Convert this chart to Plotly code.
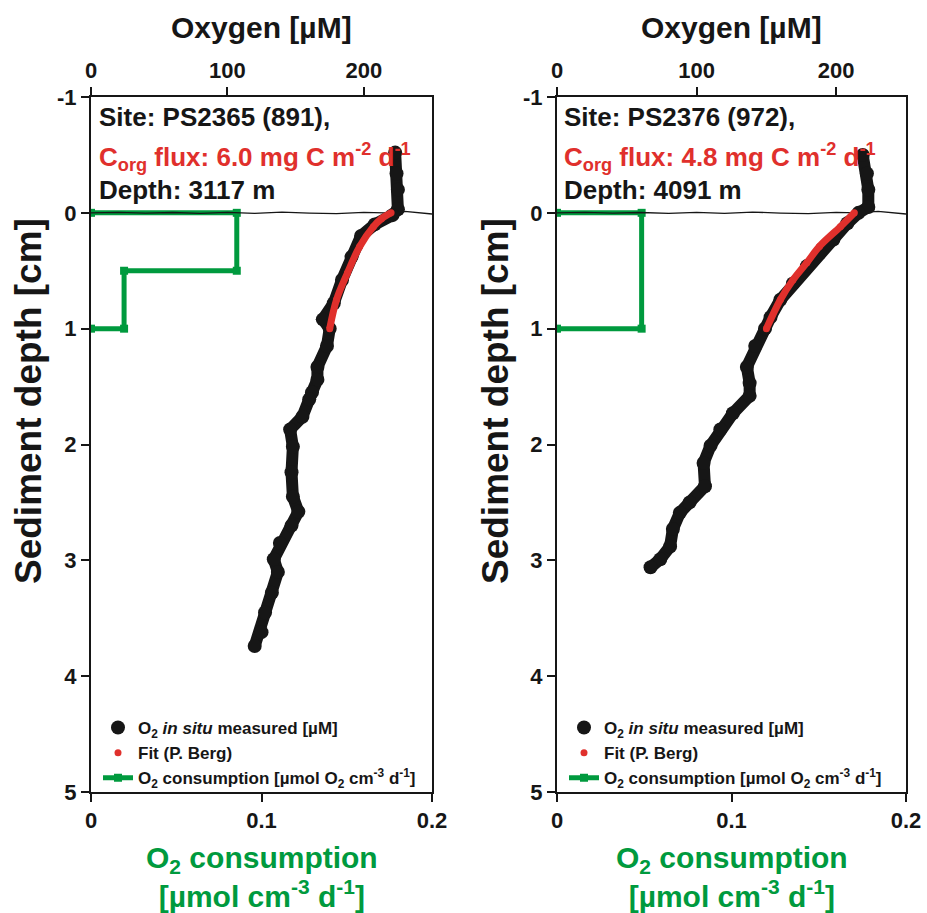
import plotly.graph_objects as go

# ---------------- data ----------------
# Site PS2365 (left)
left_o2 = [223, 224, 225, 225, 221, 208, 198, 191, 184, 178, 170, 175, 173, 166, 166, 162, 160,
           155, 146, 148, 147, 148, 152, 147, 138.5, 134, 137, 132.6, 127.6, 125, 120]
left_depth = [-0.52, -0.34, -0.2, -0.03, 0.02, 0.1, 0.2, 0.38, 0.58, 0.78, 0.92, 1.0, 1.15, 1.33,
              1.44, 1.55, 1.61, 1.76, 1.87, 2.02, 2.24, 2.45, 2.58, 2.7, 2.85, 2.99, 3.1, 3.28,
              3.45, 3.62, 3.74]
left_fit_o2 = [220, 213, 207, 197, 188, 180, 175]
left_fit_depth = [0.0, 0.05, 0.12, 0.29, 0.52, 0.75, 1.0]
left_cons = [0, 0.0855, 0.0855, 0.0194, 0.0194, 0]
left_cons_depth = [0, 0, 0.5, 0.5, 1.0, 1.0]

# Site PS2376 (right)
right_o2 = [219, 222, 223, 223, 216, 208, 198, 188, 179, 169, 160, 153, 149, 142, 136, 138, 138,
            126, 117, 110, 105, 106, 95, 88, 83, 81, 74, 67]
right_depth = [-0.5, -0.34, -0.2, -0.05, 0.0, 0.09, 0.23, 0.35, 0.46, 0.61, 0.75, 0.9, 1.0, 1.15,
               1.33, 1.47, 1.58, 1.73, 1.87, 2.01, 2.16, 2.36, 2.5, 2.59, 2.73, 2.88, 2.99, 3.06]
right_fit_o2 = [213, 203, 188, 179, 169, 160, 150]
right_fit_depth = [0.0, 0.12, 0.29, 0.43, 0.58, 0.75, 1.0]
right_cons = [0, 0.0485, 0.0485, 0]
right_cons_depth = [0, 0, 1.0, 1.0]

# sediment-water interface (slightly wavy)
iface_o2 = [0, 20, 40, 60, 80, 100, 120, 140, 160, 180, 200, 215, 230, 250]
iface_depth = [0.0, -0.004, 0.003, -0.003, 0.005, -0.004, 0.004, -0.006, 0.002, 0.006, -0.004,
               0.0, -0.012, 0.01]

sites = ["Site: PS2365 (891),", "Site: PS2376 (972),"]
fluxes = ["6.0", "4.8"]
depths_m = ["Depth: 3117 m", "Depth: 4091 m"]

y_ticks = [-1, 0, 1, 2, 3, 4, 5]
y_tick_text = ["-1", "0", "1", "2", "3", "4", "5"]
o2_ticks = [0, 100, 200]
cons_ticks = [0, 0.1, 0.2]
cons_tick_text = ["0", "0.1", "0.2"]

# ---------------- style ----------------
FONT = "Liberation Sans, Arial, sans-serif"
BLACK = "#161616"
RED = "#e0302c"
GREEN = "#009a3e"

fig = go.Figure()

panels = [
    dict(o2=left_o2, d=left_depth, fo2=left_fit_o2, fd=left_fit_depth,
         c=left_cons, cd=left_cons_depth, xb="x", xt="x3", y="y", leg="legend"),
    dict(o2=right_o2, d=right_depth, fo2=right_fit_o2, fd=right_fit_depth,
         c=right_cons, cd=right_cons_depth, xb="x2", xt="x4", y="y2", leg="legend2"),
]

for p in panels:
    fig.add_trace(go.Scatter(
        x=p["c"], y=p["cd"], xaxis=p["xb"], yaxis=p["y"], mode="lines+markers",
        line=dict(color=GREEN, width=5), marker=dict(symbol="square", size=8, color=GREEN),
        name="O<sub>2</sub> consumption [µmol O<sub>2</sub> cm<sup>-3</sup> d<sup>-1</sup>]",
        legend=p["leg"], legendrank=3))
    fig.add_trace(go.Scatter(
        x=iface_o2, y=iface_depth, xaxis=p["xt"], yaxis=p["y"], mode="lines",
        line=dict(color=BLACK, width=1.3), showlegend=False, hoverinfo="skip"))
    fig.add_trace(go.Scatter(
        x=p["o2"], y=p["d"], xaxis=p["xt"], yaxis=p["y"], mode="lines",
        line=dict(color=BLACK, width=12), showlegend=False, hoverinfo="skip"))
    fig.add_trace(go.Scatter(
        x=p["o2"], y=p["d"], xaxis=p["xt"], yaxis=p["y"], mode="markers",
        marker=dict(color=BLACK, size=14),
        name="O<sub>2</sub> <i>in situ</i> measured [µM]", legend=p["leg"], legendrank=1))
    fig.add_trace(go.Scatter(
        x=p["fo2"], y=p["fd"], xaxis=p["xt"], yaxis=p["y"], mode="lines",
        line=dict(color=RED, width=7, shape="spline"), showlegend=False, hoverinfo="skip"))
    fig.add_trace(go.Scatter(
        x=p["fo2"], y=p["fd"], xaxis=p["xt"], yaxis=p["y"], mode="markers",
        marker=dict(color=RED, size=7),
        name="Fit (P. Berg)", legend=p["leg"], legendrank=2))

W, H = 927, 913
dom_left = [91 / W, 432 / W]
dom_right = [557 / W, 906 / W]
dom_y = [1 - 792 / H, 1 - 97 / H]

axis_common = dict(showline=True, linecolor=BLACK, linewidth=2, ticks="outside", ticklen=8,
                   tickwidth=2, tickcolor=BLACK, showgrid=False, zeroline=False,
                   tickfont=dict(family=FONT, size=22, color=BLACK, weight="bold"),
                   automargin=False)

leg_common = dict(xanchor="left", yanchor="top", bgcolor="rgba(0,0,0,0)",
                  font=dict(family=FONT, size=17, color=BLACK, weight="bold"),
                  itemwidth=30, tracegroupgap=0)

fig.update_layout(
    width=W, height=H, margin=dict(l=0, r=0, t=0, b=0),
    paper_bgcolor="white", plot_bgcolor="white",
    font=dict(family=FONT, color=BLACK, weight="bold"),
    xaxis=dict(domain=dom_left, range=[0, 0.2], tickvals=cons_ticks, ticktext=cons_tick_text,
               anchor="y", mirror=True, **axis_common),
    xaxis3=dict(range=[0, 250], tickvals=o2_ticks, overlaying="x", side="top", anchor="y",
                **axis_common),
    yaxis=dict(domain=dom_y, range=[5, -1], tickvals=y_ticks, ticktext=y_tick_text, anchor="x",
               mirror=True, **axis_common),
    xaxis2=dict(domain=dom_right, range=[0, 0.2], tickvals=cons_ticks, ticktext=cons_tick_text,
                anchor="y2", mirror=True, **axis_common),
    xaxis4=dict(range=[0, 250], tickvals=o2_ticks, overlaying="x2", side="top", anchor="y2",
                **axis_common),
    yaxis2=dict(domain=dom_y, range=[5, -1], tickvals=y_ticks, ticktext=y_tick_text, anchor="x2",
                mirror=True, **axis_common),
    legend=dict(x=98 / W, y=1 - 710 / H, **leg_common),
    legend2=dict(x=564 / W, y=1 - 710 / H, **leg_common),
    showlegend=True,
)

annos = []
for i, (x0, xc, ytx) in enumerate([(97, 261.5, 28), (562, 731.5, 495)]):
    annos.append(dict(x=x0 / W, y=1 - 117 / H, text=sites[i], xanchor="left", yanchor="middle",
                      font=dict(family=FONT, size=26, color=BLACK, weight="bold")))
    annos.append(dict(x=x0 / W, y=1 - 157 / H,
                      text="C<sub>org</sub> flux: " + fluxes[i] + " mg C m<sup>-2</sup> d<sup>-1</sup>",
                      xanchor="left", yanchor="middle",
                      font=dict(family=FONT, size=26, color=RED, weight="bold")))
    annos.append(dict(x=x0 / W, y=1 - 190 / H, text=depths_m[i], xanchor="left", yanchor="middle",
                      font=dict(family=FONT, size=26, color=BLACK, weight="bold")))
    annos.append(dict(x=xc / W, y=1 - 27 / H, text="Oxygen [µM]", xanchor="center", yanchor="middle",
                      font=dict(family=FONT, size=30, color=BLACK, weight="bold")))
    annos.append(dict(x=xc / W, y=1 - 877 / H,
                      text="O<sub>2</sub> consumption<br>[µmol cm<sup>-3</sup> d<sup>-1</sup>]",
                      xanchor="center", yanchor="middle",
                      font=dict(family=FONT, size=30, color=GREEN, weight="bold")))
    annos.append(dict(x=ytx / W, y=1 - 401 / H, text="Sediment depth [cm]", textangle=-90,
                      xanchor="center", yanchor="middle",
                      font=dict(family=FONT, size=37, color=BLACK, weight="bold")))
for a in annos:
    a.update(xref="paper", yref="paper", showarrow=False)
fig.update_layout(annotations=annos)

fig.write_html("out.html")
